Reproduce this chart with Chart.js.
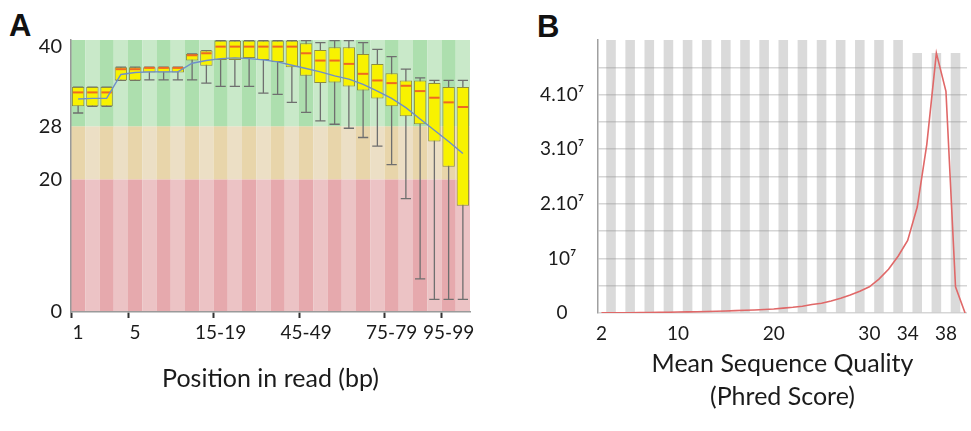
<!DOCTYPE html>
<html>
<head>
<meta charset="utf-8">
<script src="https://cdn.jsdelivr.net/npm/chart.js@4.4.0/dist/chart.umd.min.js"></script>
<style>
  body { margin: 0; background: #fff; width: 971px; height: 431px; overflow: hidden; position: relative; }
  .panel { position: absolute; top: 0; height: 431px; }
  #panelA { left: 0; width: 500px; }
  #panelB { left: 510px; width: 461px; }
  .tag { position: absolute; font-family: "Liberation Sans", Arial, sans-serif; font-weight: bold; font-size: 31px; line-height: 1; color: #111; }
</style>
</head>
<body>
<div class="tag" style="left:9px; top:10px;">A</div>
<div class="tag" style="left:537px; top:11px;">B</div>
<div class="panel" id="panelA"><canvas id="chartA"></canvas></div>
<div class="panel" id="panelB"><canvas id="chartB"></canvas></div>
<script>
// --- panel A : per base sequence quality ---
const posLabels = ['1', '2', '3', '4', '5', '6', '7', '8', '9', '10-14', '15-19', '20-24', '25-29', '30-34',
    '35-39', '40-44', '45-49', '50-54', '55-59', '60-64', '65-69', '70-74', '75-79', '80-84', '85-89',
    '90-94', '95-99', '100-101'];
const shownPos = ['1', '5', '15-19', '45-49', '75-79', '95-99'];
const whiskLow = [30.0, 31.0, 31.0, 34.9, 34.9, 35.0, 35.0, 35.0, 35.0, 34.5, 34.0, 34.0, 34.0, 33.0,
    32.8, 31.6, 30.1, 28.8, 28.3, 27.7, 26.3, 25.0, 22.2, 17.1, 5.0, 1.9, 1.9, 1.9];
const lowerQ = [31.0, 31.0, 31.0, 34.9, 34.9, 36.1, 36.1, 36.1, 37.9, 37.1, 38.0, 38.0, 38.3, 38.0,
    37.7, 36.9, 35.6, 34.5, 34.6, 34.0, 33.4, 32.2, 31.0, 29.5, 28.3, 25.7, 21.9, 16.0];
const medians = [33.1, 33.1, 33.1, 36.6, 36.6, 36.8, 36.8, 36.8, 38.7, 39.0, 40.0, 40.0, 40.0, 40.0,
    40.0, 40.0, 39.0, 37.9, 37.9, 37.4, 35.9, 34.9, 34.5, 34.1, 33.3, 32.3, 31.6, 30.9];
const upperQ = [33.9, 33.9, 33.9, 36.9, 36.9, 36.9, 36.9, 36.9, 38.9, 39.4, 40.9, 40.9, 40.9, 40.9,
    40.9, 40.9, 40.5, 39.5, 39.9, 39.9, 38.9, 37.4, 36.0, 34.9, 34.9, 34.5, 33.9, 33.9];
const whiskHigh = [33.9, 33.9, 33.9, 36.9, 36.9, 36.9, 36.9, 36.9, 38.9, 39.4, 40.9, 40.9, 40.9, 40.9,
    40.9, 40.9, 40.9, 40.6, 40.9, 40.9, 40.6, 39.6, 38.5, 36.6, 35.3, 34.9, 34.9, 34.9];
const means = [32.1, 32.2, 32.2, 35.8, 36.1, 36.2, 36.2, 36.2, 37.5, 37.9, 38.2, 38.3, 38.2, 38.0,
    37.7, 37.2, 36.7, 36.2, 35.6, 35.1, 34.3, 33.3, 32.2, 30.8, 29.1, 27.4, 25.7, 23.9];
const yTicksA = [0, 20, 28, 40];
const zoneEdges = [0, 20, 28];   // red / orange / green start

// --- panel B : per sequence quality scores ---
const qualB = [2, 3, 4, 5, 6, 7, 8, 9, 10, 11, 12, 13, 14, 15, 16, 17, 18, 19, 20, 21, 22, 23, 24, 25,
    26, 27, 28, 29, 30, 31, 32, 33, 34, 35, 36, 37, 38, 39, 40];
const countB = [20000, 30000, 40000, 50000, 70000, 90000, 110000, 140000, 170000, 200000, 240000,
    280000, 330000, 380000, 440000, 490000, 560000, 640000, 730000, 900000, 1050000, 1250000,
    1550000, 1800000, 2200000, 2700000, 3300000, 4000000, 4800000, 6200000, 8000000, 10400000,
    13300000, 19400000, 30900000, 47600000, 40600000, 4800000, 0];
const bandXB = [3, 5, 7, 9, 11, 13, 15, 17, 19, 21, 23, 25, 27, 29, 31, 33, 35, 37, 39];
const bandTopB = [5e7, 5e7, 5e7, 5e7, 5e7, 5e7, 5e7, 5e7, 5e7, 5e7, 5e7, 5e7, 5e7, 5e7, 5e7, 5e7,
    4.76e7, 4.76e7, 4.76e7];
const xTicksB = [2, 10, 20, 30, 34, 38];
const yTicksB = [0, 1e7, 2e7, 3e7, 4e7];
const yLabelsB = ['0', '10\u2077', '2.10\u2077', '3.10\u2077', '4.10\u2077'];

const FONT = 'Lato, "Open Sans", sans-serif';
const TXT = '#1b1b1b';

// striped quality zones, whiskers and medians for panel A
const zonesPlugin = {
    id: 'zones',
    beforeDraw(chart) {
        const {ctx, chartArea: a, scales: {x, y}} = chart;
        const step = x.getPixelForValue(1) - x.getPixelForValue(0);
        const colors = [['#e6a9ad', '#ecc3c5'], ['#e8d5aa', '#ecdfc5'], ['#addfae', '#c9e9c9']];
        ctx.save();
        zoneEdges.forEach((lo, z) => {
            const top = z < zoneEdges.length - 1 ? y.getPixelForValue(zoneEdges[z + 1]) : a.top;
            const bottom = y.getPixelForValue(lo);
            posLabels.forEach((p, i) => {
                ctx.fillStyle = colors[z][i % 2];
                const cx = x.getPixelForValue(i);
                ctx.fillRect(cx - step / 2, top, step, bottom - top);
            });
        });
        ctx.restore();
    },
    beforeDatasetsDraw(chart) {
        const {ctx, scales: {x, y}} = chart;
        const step = x.getPixelForValue(1) - x.getPixelForValue(0);
        const cap = step * 0.36;
        ctx.save();
        ctx.strokeStyle = '#6f6f6f';
        ctx.lineWidth = 1.3;
        whiskLow.forEach((lo, i) => {
            const px = x.getPixelForValue(i);
            const yLo = y.getPixelForValue(lo);
            const yHi = y.getPixelForValue(whiskHigh[i]);
            ctx.beginPath();
            ctx.moveTo(px, yLo); ctx.lineTo(px, yHi);
            ctx.moveTo(px - cap, yLo); ctx.lineTo(px + cap, yLo);
            ctx.moveTo(px - cap, yHi); ctx.lineTo(px + cap, yHi);
            ctx.stroke();
        });
        ctx.restore();
    },
    afterDatasetDraw(chart, args) {
        if (args.index !== 0) return;
        const {ctx, scales: {y}} = chart;
        ctx.save();
        ctx.strokeStyle = '#ee6a22';
        ctx.lineWidth = 2;
        args.meta.data.forEach((bar, i) => {
            const py = y.getPixelForValue(medians[i]);
            ctx.beginPath();
            ctx.moveTo(bar.x - bar.width / 2 + 1, py);
            ctx.lineTo(bar.x + bar.width / 2 - 1, py);
            ctx.stroke();
        });
        ctx.restore();
    }
};

new Chart(document.getElementById('chartA'), {
    type: 'bar',
    data: {
        labels: posLabels,
        datasets: [{
            label: 'Interquartile range',
            data: lowerQ.map((v, i) => [v, upperQ[i]]),
            backgroundColor: '#f8f200',
            borderColor: '#8d8d3e',
            borderWidth: 1,
            borderSkipped: false,
            barPercentage: 0.87,
            categoryPercentage: 1,
            order: 1
        }, {
            type: 'line',
            label: 'Mean',
            data: means,
            borderColor: '#6e8fc9',
            borderWidth: 1.4,
            pointRadius: 0,
            tension: 0,
            order: 0
        }]
    },
    options: {
        responsive: true,
        maintainAspectRatio: false,
        animation: false,
        layout: { padding: { top: 40, right: 30, left: 0, bottom: 0 } },
        plugins: { legend: { display: false }, tooltip: { enabled: false } },
        scales: {
            x: {
                offset: true,
                grid: {
                    drawOnChartArea: false,
                    tickLength: 6,
                    tickWidth: 2,
                    tickColor: ctx => shownPos.includes(posLabels[ctx.index]) ? '#333' : 'rgba(0,0,0,0)'
                },
                border: { color: '#9a9a9a', width: 1.5 },
                ticks: {
                    autoSkip: false,
                    maxRotation: 0,
                    padding: 3,
                    color: TXT,
                    font: { family: FONT, size: 19 },
                    callback: (v, i) => shownPos.includes(posLabels[i]) ? posLabels[i] : ''
                },
                title: {
                    display: true,
                    text: 'Position in read (bp)',
                    color: TXT,
                    font: { family: FONT, size: 25 },
                    padding: { top: 0, bottom: 37 }
                },
                afterFit: s => { s.height = 119; }
            },
            y: {
                min: 0,
                max: 41,
                afterBuildTicks: s => { s.ticks = yTicksA.map(v => ({ value: v })); },
                grid: { drawOnChartArea: false, drawTicks: false },
                border: { color: '#9a9a9a', width: 1.5 },
                ticks: { padding: 9, color: TXT, font: { family: FONT, size: 20 } },
                afterFit: s => { s.width = 71; }
            }
        }
    },
    plugins: [zonesPlugin]
});

new Chart(document.getElementById('chartB'), {
    type: 'line',
    data: {
        datasets: [{
            label: 'Reads',
            data: qualB.map((q, i) => ({ x: q, y: countB[i] })),
            borderColor: '#e06868',
            borderWidth: 1.6,
            pointRadius: 0,
            tension: 0,
            order: 0
        }, {
            type: 'bar',
            label: 'bands',
            data: bandXB.map((q, i) => ({ x: q, y: bandTopB[i] })),
            backgroundColor: 'rgba(140,140,140,0.32)',
            barPercentage: 0.5,
            categoryPercentage: 1,
            order: 1
        }]
    },
    options: {
        responsive: true,
        maintainAspectRatio: false,
        animation: false,
        layout: { padding: { top: 40, right: 4, left: 0, bottom: 0 } },
        plugins: { legend: { display: false }, tooltip: { enabled: false } },
        scales: {
            x: {
                type: 'linear',
                min: 1.64,
                max: 40.2,
                offset: false,
                afterBuildTicks: s => { s.ticks = xTicksB.map(v => ({ value: v })); },
                grid: { display: true, drawOnChartArea: false, tickLength: 6, tickColor: 'rgba(0,0,0,0)' },
                border: { display: false },
                ticks: { padding: 3, color: TXT, font: { family: FONT, size: 19 } },
                title: {
                    display: true,
                    text: ['Mean Sequence Quality', '(Phred Score)'],
                    color: TXT,
                    font: { family: FONT, size: 25, lineHeight: 1.32 },
                    padding: { top: 0, bottom: 18 }
                },
                afterFit: s => { s.height = 118; }
            },
            y: {
                min: 0,
                max: 5e7,
                grid: {
                    drawTicks: false,
                    lineWidth: 1.5,
                    color: ctx => ctx.tick && ctx.tick.value >= 5e7 ? 'rgba(0,0,0,0)' : '#d6d6d6'
                },
                border: { color: '#a0a0a0', width: 1.5 },
                ticks: {
                    stepSize: 5e6,
                    padding: 14,
                    crossAlign: 'center',
                    color: TXT,
                    font: { family: FONT, size: 19 },
                    callback: v => {
                        const k = yTicksB.indexOf(v);
                        return k >= 0 ? yLabelsB[k] : '';
                    }
                },
                afterFit: s => { s.width = 88; }
            }
        }
    }
});
</script>
</body>
</html>
